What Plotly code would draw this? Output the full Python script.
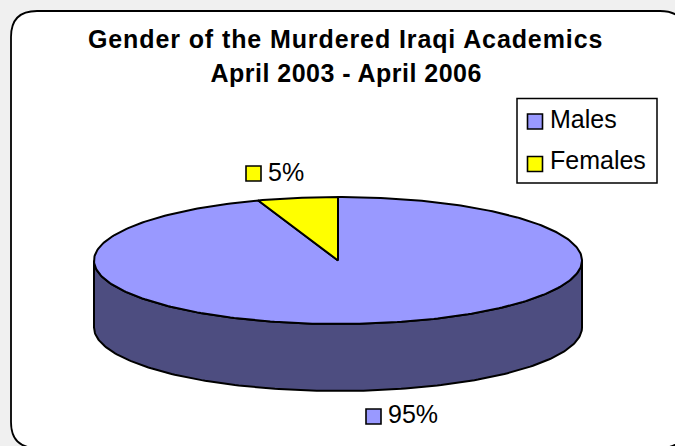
import json
import numpy as np
import plotly.graph_objects as go

categories = ["Males", "Females"]
shares = [94.7, 5.3]
labels = ["95%", "5%"]
colors = ["#9999ff", "#ffff00"]
title_lines = ["Gender of the Murdered Iraqi Academics", "April 2003 - April 2006"]

W, H = 675, 446
CX, CY, RX, RY, DEPTH = 338, 260.5, 244, 63.5, 67
SIDE = "#4d4d80"
PAGE = "#f0f0f0"
FONT = "Liberation Sans, Arial, sans-serif"
TXT = 25
KEY = dict(symbol="square", size=15, line=dict(color="black", width=1.6))
EDGE = dict(color="black", width=2)


def pt(theta):
    """clockwise angle from 12 o'clock -> pixel coordinates on the top ellipse"""
    return CX + RX * np.sin(theta), CY - RY * np.cos(theta)


fig = go.Figure()

# side wall: the visible, lower half of the rim
t = np.linspace(np.pi / 2, 3 * np.pi / 2, 181)
x, y = pt(t)
fig.add_trace(go.Scatter(
    x=np.r_[x, x[::-1], x[0]], y=np.r_[y, y[::-1] + DEPTH, y[0]],
    mode="lines", fill="toself", fillcolor=SIDE,
    line=EDGE, hoverinfo="skip", showlegend=False))

# top face: one slice per category, clockwise, ending at 12 o'clock
fracs = np.array(shares) / sum(shares)
start = 0.0
for name, f, c in zip(categories, fracs, colors):
    th = np.linspace(start, start + f * 2 * np.pi, max(int(f * 360), 8))
    px, py = pt(th)
    fig.add_trace(go.Scatter(
        x=np.r_[CX, px, CX], y=np.r_[CY, py, CY],
        mode="lines", fill="toself", fillcolor=c,
        line=EDGE, name=name, showlegend=False,
        hoverinfo="name"))
    start += f * 2 * np.pi

annotations = []


def keyed_text(lx, ly, ty, txt, c):
    fig.add_trace(go.Scatter(x=[lx], y=[ly], mode="markers", name=txt,
                             marker=dict(color=c, **KEY), hoverinfo="skip", showlegend=False))
    annotations.append(dict(x=lx + 13.5, y=ty, xref="x", yref="y", text=txt, showarrow=False,
                            xanchor="left", yanchor="middle", borderpad=0,
                            font=dict(family=FONT, size=TXT, color="black")))


# data labels with their keys: key x, key y, text y
LABEL_POS = [(373.5, 416.5, 413.5), (253.5, 173.5, 171.5)]
for (lx, ly, ty), txt, c in zip(LABEL_POS, labels, colors):
    keyed_text(lx, ly, ty, txt, c)

# legend entries
LEGEND_POS = [(535, 121.5, 119), (535, 164, 160)]
for (lx, ly, ty), name, c in zip(LEGEND_POS, categories, colors):
    keyed_text(lx, ly, ty, name, c)

# title, one annotation per line so that the line distance can follow the reference
for yy, line in zip((38.5, 72.5), title_lines):
    annotations.append(dict(x=345.5, y=yy, xref="x", yref="y", text=line, showarrow=False,
                            xanchor="center", yanchor="middle",
                            font=dict(family=FONT, size=25, color="black", weight="bold")))

R = 26
L, T, RT, B = 11, 11, 686, 448
frame = (f"M {L+R} {T} L {RT-R} {T} Q {RT} {T} {RT} {T+R} L {RT} {B-R} Q {RT} {B} {RT-R} {B} "
         f"L {L+R} {B} Q {L} {B} {L} {B-R} L {L} {T+R} Q {L} {T} {L+R} {T} Z")

fig.update_layout(
    width=W, height=H, margin=dict(l=0, r=0, t=0, b=0),
    paper_bgcolor=PAGE, plot_bgcolor=PAGE,
    xaxis=dict(range=[0, W], visible=False, fixedrange=True),
    yaxis=dict(range=[H, 0], visible=False, fixedrange=True),
    shapes=[dict(type="path", path=frame, xref="x", yref="y", fillcolor="white",
                 line=dict(color="black", width=1.8), layer="below"),
            dict(type="rect", x0=517, x1=657, y0=98.5, y1=183, xref="x", yref="y",
                 fillcolor="white", line=dict(color="black", width=1.5), layer="below")],
    annotations=annotations,
    showlegend=False,
)

spacing = json.dumps({title_lines[0]: "0.9px", title_lines[1]: "0.48px"})
post = ("document.body.style.margin='0';document.body.style.overflow='hidden';"
        f"var sp={spacing};"
        "document.querySelectorAll('.annotation-text').forEach(function(e){"
        "if(sp[e.textContent]){e.style.letterSpacing=sp[e.textContent];}});")
fig.write_html("out.html", config=dict(displayModeBar=False), post_script=post)
